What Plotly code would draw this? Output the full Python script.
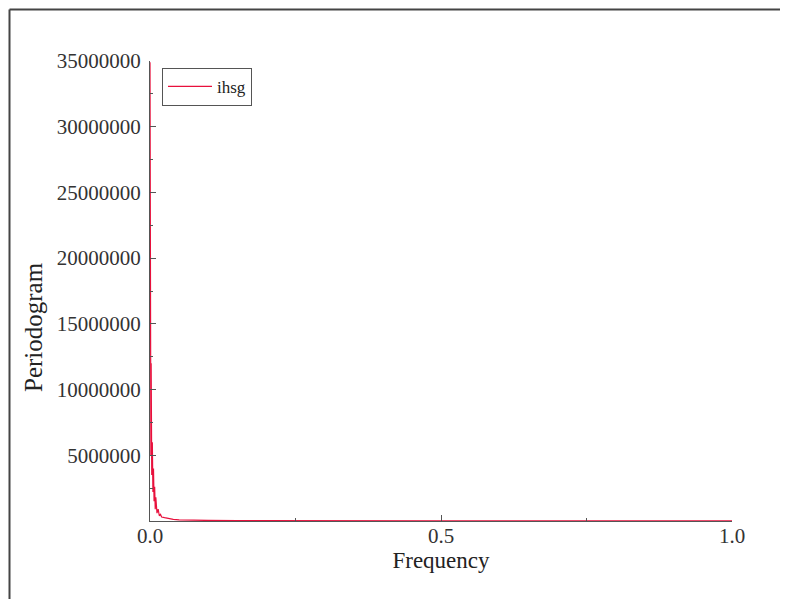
import plotly.graph_objects as go

# Data
frequency = [0.0, 0.0005, 0.001, 0.0015, 0.002, 0.003, 0.004, 0.005, 0.006, 0.007,
             0.008, 0.009, 0.010, 0.012, 0.014, 0.016, 0.018, 0.020, 0.025, 0.030,
             0.035, 0.040, 0.050, 0.060, 0.080, 0.100, 0.150, 0.200, 0.300, 0.400,
             0.500, 0.600, 0.700, 0.800, 0.900, 1.000]
periodogram = [34900000, 9000000, 32300000, 5000000, 12000000, 3500000, 6000000, 2200000, 4000000, 1500000,
               2600000, 900000, 1800000, 600000, 900000, 400000, 500000, 300000, 250000, 200000,
               150000, 120000, 90000, 70000, 50000, 40000, 30000, 20000, 15000, 10000,
               8000, 6000, 5000, 4000, 3000, 2000]

series_name = "ihsg"
y_ticks = [5000000, 10000000, 15000000, 20000000, 25000000, 30000000, 35000000]
x_ticks = [0.0, 0.5, 1.0]
x_tick_labels = ["0.0", "0.5", "1.0"]

# page body has an 8px margin, so the figure is 8px smaller
W, H = 780, 591
L, R, T, B = 142, 56, 53, 78
pw, ph = W - L - R, H - T - B

fig = go.Figure()
fig.add_trace(go.Scatter(x=frequency, y=periodogram, mode="lines", name=series_name,
                         line=dict(color="#e8103c", width=1.2)))

font = "Liberation Serif, Times New Roman, serif"
axis_common = dict(showline=True, linecolor="#555555", linewidth=1, showgrid=False, zeroline=False,
                   ticks="inside", tickcolor="#555555", ticklen=6, tickwidth=1,
                   tickfont=dict(family=font, size=21, color="#333333"),
                   minor=dict(ticks="inside", ticklen=3, tickcolor="#555555", tickwidth=1))

fig.update_layout(
    width=W, height=H,
    margin=dict(l=L, r=R, t=T, b=B),
    paper_bgcolor="white", plot_bgcolor="white",
    showlegend=True,
    legend=dict(x=0.0206, y=0.985, xanchor="left", yanchor="top", itemwidth=44,
                bordercolor="#555555", borderwidth=1, bgcolor="white",
                font=dict(family=font, size=17, color="#222222")),
    xaxis=dict(range=[0, 1], tickvals=x_ticks, ticktext=x_tick_labels, ticklabelstandoff=-4,
               title=dict(text="Frequency", font=dict(family=font, size=23, color="#222222"), standoff=0),
               **axis_common),
    yaxis=dict(range=[0, 35000000], tickvals=y_ticks, tickformat="d", ticklabelstandoff=4,
               **axis_common),
    annotations=[dict(text="Periodogram", textangle=-90, xref="paper", yref="paper",
                      x=(33 - 150) / pw, y=(521 - 327) / ph, xanchor="center", yanchor="middle",
                      showarrow=False, font=dict(family=font, size=25, color="#222222"))],
)
fig.update_xaxes(minor=dict(tickvals=[0.25, 0.75]))
fig.update_yaxes(minor=dict(tickvals=[2500000, 7500000, 12500000, 17500000, 22500000, 27500000, 32500000]))

# outer frame (top and left edges visible)
fx0 = (1.5 - L) / pw
fy1 = (H - B - 1.5) / ph
fig.add_shape(type="line", xref="paper", yref="paper", x0=fx0, x1=2, y0=fy1, y1=fy1,
              line=dict(color="#444444", width=2))
fig.add_shape(type="line", xref="paper", yref="paper", x0=fx0, x1=fx0, y0=fy1, y1=-2,
              line=dict(color="#444444", width=2))

fig.write_html("out.html")
